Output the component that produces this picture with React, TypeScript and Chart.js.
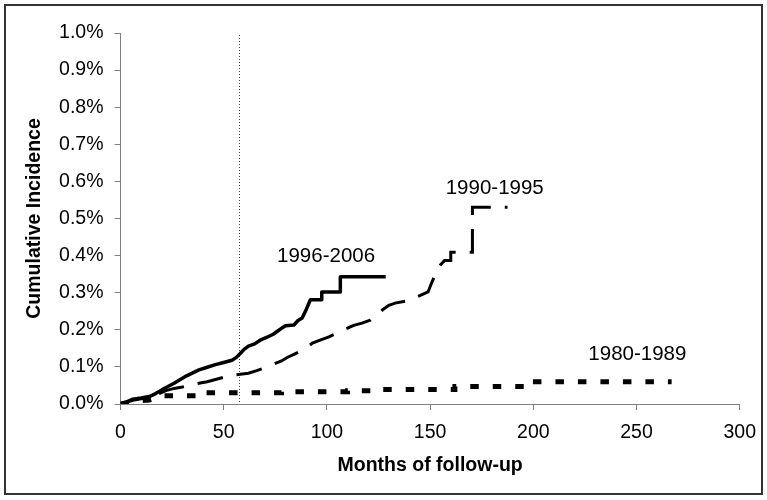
import { useEffect, useRef } from "react";
import { Chart, registerables } from "chart.js";

Chart.register(...registerables);

const FONT = '"Liberation Sans", Arial, Helvetica, sans-serif';

// Cumulative incidence (%) by months of follow-up, one curve per diagnosis period.
// A repeated month marks a jump in the curve at that time.
const MONTHS_1996 = [0, 3, 6, 10, 14, 17, 20, 23, 26, 29, 32, 35, 38, 42, 46, 50, 54, 56, 58, 60, 62, 65, 68, 71, 74, 76, 78, 80, 84, 86, 88, 90, 92, 97.5, 97.5, 106.5, 106.5, 128.5];
const INC_1996 = [0, 0.006, 0.013, 0.016, 0.02, 0.028, 0.038, 0.047, 0.056, 0.066, 0.076, 0.084, 0.092, 0.099, 0.106, 0.112, 0.118, 0.125, 0.136, 0.148, 0.156, 0.162, 0.173, 0.18, 0.188, 0.196, 0.204, 0.211, 0.213, 0.225, 0.232, 0.255, 0.281, 0.281, 0.302, 0.302, 0.343, 0.343];

const MONTHS_1990 = [0, 3, 6, 10, 14, 18, 22, 26, 30, 34, 38, 42, 46, 50, 54, 58, 62, 66, 70, 74, 78, 81, 84, 87, 90, 93, 97, 101, 105, 109, 113, 117, 121, 124, 127, 130, 133, 139, 144, 149, 151, 153, 155, 157, 160, 160, 170.5, 170.5, 187.5];
const INC_1990 = [0, 0.005, 0.01, 0.014, 0.018, 0.026, 0.036, 0.042, 0.046, 0.051, 0.056, 0.06, 0.066, 0.072, 0.078, 0.08, 0.083, 0.09, 0.098, 0.107, 0.116, 0.126, 0.134, 0.142, 0.152, 0.164, 0.173, 0.181, 0.192, 0.202, 0.212, 0.218, 0.226, 0.24, 0.254, 0.266, 0.272, 0.278, 0.29, 0.302, 0.33, 0.355, 0.375, 0.387, 0.387, 0.409, 0.409, 0.53, 0.53];

const MONTHS_1980 = [0, 4, 8, 14, 20, 41, 41, 78, 78, 110, 110, 125, 125, 162, 162, 197, 197, 267];
const INC_1980 = [0, 0.004, 0.008, 0.011, 0.022, 0.022, 0.03, 0.03, 0.033, 0.033, 0.036, 0.036, 0.039, 0.039, 0.047, 0.047, 0.06, 0.06];

const PERIODS = ["1996-2006", "1990-1995", "1980-1989"];

// Where each period name is written, in axis units (months, %)
const LABEL_MONTH = [99.6, 181.3, 250.4];
const LABEL_INC = [0.398, 0.582, 0.134];

// Vertical reference line (months)
const MARKER_MONTH = 57.5;

const X_MIN = 0;
const X_MAX = 300;
const X_STEP = 50;
const Y_MIN = 0;
const Y_MAX = 1.0;
const Y_STEP = 0.1;

const toPoints = (xs: number[], ys: number[]) => xs.map((x, i) => ({ x, y: ys[i] }));

const decorations = {
  id: "decorations",
  beforeDatasetsDraw(chart: any) {
    const { ctx, scales } = chart;
    const x = Math.round(scales.x.getPixelForValue(MARKER_MONTH)) + 0.5;
    const yTop = scales.y.getPixelForValue(Y_MAX) + 2;
    const yBottom = scales.y.getPixelForValue(Y_MIN);
    ctx.save();
    ctx.strokeStyle = "#444";
    ctx.lineWidth = 1;
    ctx.setLineDash([1, 2]);
    ctx.beginPath();
    ctx.moveTo(x, yTop);
    ctx.lineTo(x, yBottom);
    ctx.stroke();
    ctx.restore();
  },
  afterDatasetsDraw(chart: any) {
    const { ctx, scales } = chart;
    ctx.save();
    ctx.fillStyle = "#000";
    ctx.font = `20.5px ${FONT}`;
    ctx.textAlign = "center";
    ctx.textBaseline = "middle";
    PERIODS.forEach((name, i) => {
      ctx.fillText(name, scales.x.getPixelForValue(LABEL_MONTH[i]), scales.y.getPixelForValue(LABEL_INC[i]));
    });
    ctx.restore();
  },
  afterDraw(chart: any) {
    const { ctx } = chart;
    ctx.save();
    ctx.strokeStyle = "#333";
    ctx.lineWidth = 2;
    ctx.strokeRect(5, 5, 757, 489);
    ctx.restore();
  },
};

export default function App() {
  const canvasRef = useRef<HTMLCanvasElement | null>(null);

  useEffect(() => {
    const canvas = canvasRef.current;
    if (!canvas) return;

    const axisGrid = {
      drawOnChartArea: false,
      drawTicks: true,
      tickLength: 6,
      tickColor: "#808080",
      tickWidth: 1,
    };
    const axisBorder = { display: true, color: "#808080", width: 1 };
    const tickFont = { family: FONT, size: 19.5 };
    const titleFont = { family: FONT, size: 19.5, weight: "bold" as const };

    const chart = new Chart(canvas, {
      type: "line",
      data: {
        datasets: [
          {
            label: PERIODS[0],
            data: toPoints(MONTHS_1996, INC_1996),
            borderColor: "#000",
            borderWidth: 3.5,
            borderJoinStyle: "round",
            pointRadius: 0,
            tension: 0,
            fill: false,
          },
          {
            label: PERIODS[1],
            data: toPoints(MONTHS_1990, INC_1990),
            borderColor: "#000",
            borderWidth: 3,
            borderDash: [26, 14],
            borderDashOffset: 0,
            pointRadius: 0,
            tension: 0,
            fill: false,
          },
          {
            label: PERIODS[2],
            data: toPoints(MONTHS_1980, INC_1980),
            borderColor: "#000",
            borderWidth: 5,
            borderDash: [8.5, 14],
            borderCapStyle: "butt",
            pointRadius: 0,
            tension: 0,
            fill: false,
          },
        ],
      },
      options: {
        animation: false,
        responsive: false,
        events: [],
        layout: { padding: { left: 0, right: 26.3, top: 33, bottom: 0 } },
        plugins: {
          legend: { display: false },
          tooltip: { enabled: false },
        },
        scales: {
          x: {
            type: "linear",
            min: X_MIN,
            max: X_MAX,
            ticks: { stepSize: X_STEP, color: "#000", font: tickFont, padding: 11, maxRotation: 0 },
            grid: axisGrid,
            border: axisBorder,
            title: {
              display: true,
              text: "Months of follow-up",
              color: "#000",
              font: titleFont,
              padding: { top: 0, bottom: 23 },
            },
            afterFit: (s: any) => {
              s.height = 96;
            },
          },
          y: {
            type: "linear",
            min: Y_MIN,
            max: Y_MAX,
            ticks: {
              stepSize: Y_STEP,
              color: "#000",
              font: tickFont,
              padding: 11,
              callback: (v: any) => `${Number(v).toFixed(1)}%`,
            },
            grid: axisGrid,
            border: axisBorder,
            title: {
              display: true,
              text: "Cumulative Incidence",
              color: "#000",
              font: titleFont,
              padding: { top: 23.3, bottom: 0 },
            },
            afterFit: (s: any) => {
              s.width = 120.5;
            },
          },
        },
      },
      plugins: [decorations],
    });

    return () => chart.destroy();
  }, []);

  return (
    <div style={{ position: "fixed", left: 0, top: 0, width: 767, height: 500, background: "#fff" }}>
      <canvas ref={canvasRef} width={767} height={500} style={{ display: "block" }} />
    </div>
  );
}
